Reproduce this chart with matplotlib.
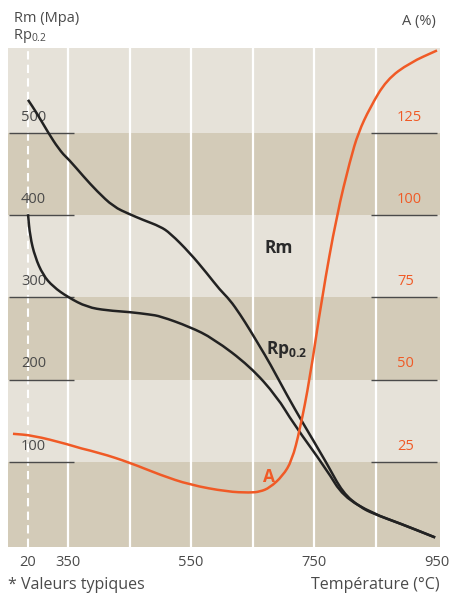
import numpy as np
import matplotlib
matplotlib.use("Agg")
from matplotlib import pyplot as plt
from matplotlib.path import Path
from matplotlib.patches import PathPatch

plt.rcParams['font.family'] = ['Open Sans', 'DejaVu Sans']

# values
rm_temp = [20, 92, 187, 270, 352, 375, 397, 424, 450, 472, 500, 516, 548,
           576, 597, 613, 630, 646, 662, 678, 706, 732, 771, 797, 825, 846,
           890, 947]
rm_mpa = [540, 524, 500, 481, 467, 447, 429, 410, 401, 394, 386, 378, 354,
          329, 309, 297, 279, 260, 240, 220, 181, 147, 98, 62, 45, 37,
          25, 8]

rp_temp = [20, 37, 78, 144, 226, 350, 381, 413, 451, 483, 500, 548, 586,
           646, 690, 716, 771, 797, 846, 890, 947]
rp_mpa = [401, 374, 349, 327, 313, 300, 288, 284, 282, 279, 277, 264, 250,
          216, 179, 147, 90, 58, 37, 25, 8]

a_temp = [-104, 61, 342, 402, 451, 500, 548, 609, 646, 662, 678, 699, 714,
          727, 743, 763, 787, 809, 822, 841, 868, 906, 950]
a_pct = [33.5, 33.0, 30.4, 27.7, 24.7, 21.0, 18.0, 15.9, 15.6, 15.9, 17.1,
         20.7, 25.3, 34.7, 50.0, 75.0, 100.0, 116.8, 125.0, 132.6, 141.1,
         146.3, 150.0]

mpa_ticks = [100, 200, 300, 400, 500]
a_ticks = [25, 50, 75, 100, 125]
x_ticks = [20, 350, 550, 750, 950]
grid_temps = [350, 450, 550, 650, 750, 850]

LIGHT = "#e6e2d9"
DARK = "#d3cbb8"
BLACK = "#222222"
ORANGE = "#f05a26"
GREY = "#4a4a4a"

# broken temperature axis: 20..350 is squeezed
t_knots = [-200, 20, 350, 1000]
p_knots = [1.33, 28, 68, 467.75]


def fwd(t):
    return np.interp(t, t_knots, p_knots)


def inv(p):
    return np.interp(p, p_knots, t_knots)


def smooth_curve(axis, xs, ys, color):
    # quadratic bezier through midpoints, so the read points join softly
    pts = np.column_stack([xs, ys]).astype(float)
    mids = (pts[:-1] + pts[1:]) / 2
    verts = [pts[0], mids[0]]
    codes = [Path.MOVETO, Path.LINETO]
    for i in range(1, len(pts) - 1):
        verts += [pts[i], mids[i]]
        codes += [Path.CURVE3, Path.CURVE3]
    verts.append(pts[-1])
    codes.append(Path.LINETO)
    patch = PathPatch(Path(verts, codes), fill=False, edgecolor=color,
                      lw=1.8, capstyle="butt", joinstyle="round", zorder=4)
    axis.add_patch(patch)


W, H = 455, 598
fig = plt.figure(figsize=(W / 100, H / 100), dpi=100)
ax = fig.add_axes([8 / W, (H - 547) / H, 432 / W, 499 / H])
ax.set_xscale("function", functions=(fwd, inv))
ax.set_xlim(inv(8), inv(440))
ax.set_ylim(-3.6, 603)
ax.set_facecolor(LIGHT)
for lo, hi in [(-50, 100), (200, 300), (400, 500)]:
    ax.axhspan(lo, hi, color=DARK, lw=0, zorder=0)
for s in ax.spines.values():
    s.set_visible(False)

for t in grid_temps:
    ax.axvline(t, color="white", lw=1.6, zorder=1)
ax.axvline(20, color="white", lw=1.5, dashes=(4, 2.5), zorder=1)

# grey scale marks with labels
ax.hlines(mpa_ticks, inv(9), inv(74), color=GREY, lw=1.0, zorder=2)
ax.hlines(mpa_ticks, inv(371), inv(437), color=GREY, lw=1.0, zorder=2)
for v, a in zip(mpa_ticks, a_ticks):
    ax.text(inv(21), v + 10, str(v), color=GREY, fontsize=10.5,
            ha="left", va="bottom")
    ax.text(inv(397), v + 10, str(a), color=ORANGE, fontsize=10.5,
            ha="left", va="bottom")

smooth_curve(ax, rm_temp, rm_mpa, BLACK)
smooth_curve(ax, rp_temp, rp_mpa, BLACK)

ax2 = ax.twinx()
ax2.set_ylim(-3.6 / 4, 603 / 4)
ax2.axis("off")
smooth_curve(ax2, a_temp, a_pct, ORANGE)

ax.text(inv(265), 360, "Rm", color="#2a2a2a", fontsize=12.5,
        fontweight="bold", ha="left", va="center")
ax.text(inv(266), 236, r"Rp$_{\mathregular{0.2}}$", color="#2a2a2a",
        fontsize=12.5, fontweight="bold", ha="left", va="center")
ax.text(inv(263), 82, "A", color=ORANGE, fontsize=12.5,
        fontweight="bold", ha="left", va="center")

ax.set_xticks(x_ticks)
ax.set_xticklabels([str(t) for t in x_ticks], color=GREY, fontsize=10.5)
ax.tick_params(axis="x", length=0, pad=6)
ax.set_yticks([])

fig.text(14 / W, 1 - 18 / H, "Rm (Mpa)", color=GREY, fontsize=10.5,
         ha="left", va="center")
fig.text(13 / W, 1 - 36 / H, r"Rp$_{\mathregular{0.2}}$", color=GREY,
         fontsize=10.5, ha="left", va="center")
fig.text(436 / W, 1 - 22 / H, "A (%)", color=GREY, fontsize=10.5,
         ha="right", va="center")
fig.text(8 / W, 1 - 585 / H, "* Valeurs typiques", color=GREY,
         fontsize=11.5, ha="left", va="center")
fig.text(440 / W, 1 - 585 / H, "Température (°C)", color=GREY,
         fontsize=11.5, ha="right", va="center")

fig.savefig("out.png", dpi=100, facecolor="white")
